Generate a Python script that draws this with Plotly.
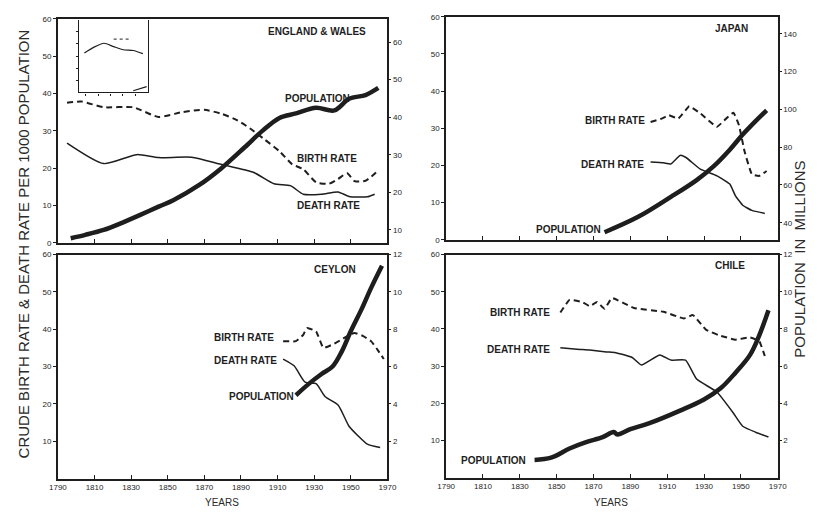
import plotly.graph_objects as go

W, H = 817, 513
INK = "#1e1e1e"
FONT = "Liberation Sans"

year_ticks = [1790, 1810, 1830, 1850, 1870, 1890, 1910, 1930, 1950, 1970]
rate_ticks = [0, 10, 20, 30, 40, 50, 60]

# ---------------- England & Wales ----------------
ew_birth_years = [1795, 1803, 1815, 1831, 1845, 1858, 1870, 1879, 1888, 1895, 1902, 1911, 1918, 1924, 1931, 1938, 1943, 1948, 1952, 1958, 1965]
ew_birth = [37.5, 37.8, 36.3, 36.3, 33.7, 35.0, 35.6, 34.6, 32.8, 30.6, 28.0, 24.5, 21.0, 19.7, 16.2, 15.8, 17.1, 18.6, 16.5, 16.6, 19.4]
ew_death_years = [1795, 1815, 1833, 1845, 1863, 1879, 1897, 1908, 1917, 1924, 1934, 1943, 1949, 1959, 1963]
ew_death = [26.7, 21.2, 23.6, 22.8, 22.9, 21.0, 18.8, 15.8, 15.3, 13.0, 13.0, 13.6, 12.4, 12.3, 13.0]
ew_pop_years = [1797, 1805, 1815, 1825, 1835, 1845, 1853, 1867, 1879, 1892, 1902, 1911, 1920, 1931, 1941, 1949, 1958, 1965]
ew_pop = [7.8, 8.7, 10.0, 11.9, 14.0, 16.2, 17.9, 21.9, 26.3, 32.0, 36.5, 39.8, 41.0, 42.5, 41.8, 44.9, 45.9, 47.8]
ew_pop_ticks = [10, 20, 30, 40, 50, 60]

# inset (small chart inside England & Wales panel)
inset_years = [1756, 1787, 1819, 1850, 1881, 1913, 1944]
inset_values = [32.6, 37.4, 40.6, 37.8, 35.2, 34.6, 32.0]
inset_dot_years = [1850, 1908]
inset_dot_values = [44.0, 44.0]
inset_low_years = [1913, 1956]
inset_low_values = [1.4, 4.8]

# ---------------- Japan ----------------
jp_birth_years = [1901, 1907, 1911, 1916, 1922, 1928, 1937, 1942, 1946, 1949, 1952, 1956, 1960, 1964]
jp_birth = [31.7, 32.6, 33.5, 32.6, 35.9, 34.0, 30.4, 32.6, 34.2, 30.8, 23.8, 17.6, 17.2, 18.5]
jp_death_years = [1901, 1908, 1912, 1917, 1920, 1928, 1937, 1944, 1947, 1951, 1956, 1963]
jp_death = [20.9, 20.7, 20.4, 22.7, 22.2, 19.0, 17.2, 15.0, 11.9, 9.3, 7.9, 7.1]
jp_pop_years = [1876, 1894, 1912, 1926, 1935, 1944, 1951, 1958, 1964]
jp_pop = [35.0, 43.0, 53.7, 62.6, 69.7, 78.7, 86.7, 93.8, 99.5]
jp_pop_ticks = [40, 60, 80, 100, 120, 140]

# ---------------- Ceylon ----------------
cy_birth_years = [1913, 1920, 1924, 1926, 1931, 1935, 1940, 1945, 1949, 1952, 1957, 1961, 1965, 1968]
cy_birth = [36.8, 36.8, 38.5, 40.3, 39.4, 35.0, 35.9, 37.2, 38.5, 39.0, 38.1, 36.8, 34.2, 32.0]
cy_death_years = [1913, 1919, 1925, 1931, 1936, 1943, 1949, 1954, 1959, 1966]
cy_death = [32.0, 30.2, 25.8, 25.4, 21.9, 19.7, 14.0, 11.4, 9.2, 8.3]
cy_pop_years = [1920, 1927, 1934, 1940, 1945, 1950, 1956, 1961, 1967]
cy_pop = [4.46, 5.07, 5.6, 6.0, 6.8, 7.9, 9.1, 10.2, 11.4]
small_pop_ticks = [2, 4, 6, 8, 10, 12]

# ---------------- Chile ----------------
ch_birth_years = [1852, 1857, 1864, 1868, 1872, 1876, 1880, 1892, 1908, 1919, 1924, 1931, 1938, 1947, 1955, 1960, 1963]
ch_birth = [44.4, 47.8, 47.2, 46.1, 47.2, 45.4, 48.3, 45.6, 44.6, 42.8, 43.7, 39.8, 38.3, 37.1, 37.7, 36.7, 32.7]
ch_death_years = [1852, 1861, 1868, 1877, 1882, 1891, 1896, 1906, 1912, 1920, 1926, 1937, 1946, 1951, 1958, 1965]
ch_death = [34.9, 34.5, 34.3, 33.8, 33.6, 32.3, 30.3, 33.0, 31.6, 31.6, 26.5, 23.0, 17.3, 13.8, 12.2, 10.9]
ch_pop_years = [1838, 1847, 1857, 1866, 1875, 1881, 1883, 1890, 1900, 1917, 1930, 1939, 1947, 1955, 1960, 1965]
ch_pop = [0.95, 1.07, 1.56, 1.9, 2.17, 2.45, 2.32, 2.6, 2.91, 3.6, 4.2, 4.8, 5.63, 6.6, 7.65, 9.0]


def px(x):
    return x / W


def py(y):
    return 1 - y / H


fig = go.Figure()


def add(xs, ys, xa, ya, dash, width, smooth=0.6):
    fig.add_trace(go.Scatter(
        x=xs, y=ys, xaxis=xa, yaxis=ya, mode="lines",
        line=dict(color=INK, width=width, dash=dash, shape="spline", smoothing=smooth),
        showlegend=False, hoverinfo="skip"))


BR_DASH = "6px,4px"
# England & Wales
add(ew_birth_years, ew_birth, "x", "y", BR_DASH, 2)
add(ew_death_years, ew_death, "x", "y", "solid", 1.5)
add(ew_pop_years, ew_pop, "x", "y2", "solid", 4.5, 0.9)
# Japan
add(jp_birth_years, jp_birth, "x2", "y3", BR_DASH, 2, 0.3)
add(jp_death_years, jp_death, "x2", "y3", "solid", 1.5, 0.4)
add(jp_pop_years, jp_pop, "x2", "y4", "solid", 4.5, 1.0)
# Ceylon
add(cy_birth_years, cy_birth, "x3", "y5", BR_DASH, 2, 0.4)
add(cy_death_years, cy_death, "x3", "y5", "solid", 1.5)
add(cy_pop_years, cy_pop, "x3", "y6", "solid", 4.5, 1.0)
# Chile
add(ch_birth_years, ch_birth, "x4", "y7", BR_DASH, 2, 0.3)
add(ch_death_years, ch_death, "x4", "y7", "solid", 1.5, 0.4)
add(ch_pop_years, ch_pop, "x4", "y8", "solid", 4.5, 1.0)
# inset
add(inset_years, inset_values, "x5", "y9", "solid", 1.2)
add(inset_dot_years, inset_dot_values, "x5", "y9", "dot", 1)
add(inset_low_years, inset_low_values, "x5", "y9", "solid", 1.2)

tick_font = dict(family=FONT, size=8, color=INK)
common_axis = dict(showline=True, linecolor=INK, linewidth=1.6, showgrid=False,
                   zeroline=False, tickcolor=INK, tickfont=tick_font)

# panel boxes in pixels: (left, right, top, bottom)
boxes = {
    1: (50, 387, 15, 243),
    2: (447, 786, 13, 240),
    3: (50, 387, 255, 483),
    4: (447, 786, 255, 482),
}
right_specs = {
    1: ([6.6, 66.2], ew_pop_ticks),
    2: ([31, 149], jp_pop_ticks),
    3: ([0, 12], small_pop_ticks),
    4: ([0, 12], small_pop_ticks),
}

layout = dict(
    width=W, height=H, margin=dict(l=0, r=0, t=0, b=0),
    paper_bgcolor="white", plot_bgcolor="rgba(0,0,0,0)",
    showlegend=False,
)

for i in range(1, 5):
    l, r, t, b = boxes[i]
    xname = "xaxis" if i == 1 else f"xaxis{i}"
    yl = 2 * i - 1
    yr = 2 * i
    ylname = "yaxis" if yl == 1 else f"yaxis{yl}"
    yrname = f"yaxis{yr}"
    xref = "x" if i == 1 else f"x{i}"
    ylref = "y" if yl == 1 else f"y{yl}"
    bottom_row = i >= 3
    layout[xname] = dict(common_axis, domain=[px(l), px(r)], anchor=ylref,
                         range=[1790, 1970], tickvals=year_ticks,
                         showticklabels=bottom_row, ticks="inside", ticklen=4,
                         mirror=True)
    layout[ylname] = dict(common_axis, domain=[py(b), py(t)], anchor=xref,
                          range=[0, 60],
                          tickvals=rate_ticks if not bottom_row else rate_ticks[1:],
                          ticks="outside", ticklen=3, mirror=True)
    rng, tv = right_specs[i]
    layout[yrname] = dict(common_axis, overlaying=ylref, side="right", anchor=xref,
                          range=rng, tickvals=tv, ticks="outside", ticklen=3,
                          showline=False)

# inset axes
layout["xaxis5"] = dict(common_axis, domain=[px(72), px(142)], anchor="y9",
                        range=[1740, 1960], tickvals=[1760, 1800, 1840, 1880, 1920],
                        showticklabels=False, ticks="outside", ticklen=2,
                        linewidth=1.2, mirror=False)
layout["yaxis9"] = dict(common_axis, domain=[py(90), py(16)], anchor="x5",
                        range=[0, 60], tickvals=[10, 20, 30, 40, 50],
                        showticklabels=False, ticks="outside", ticklen=2,
                        linewidth=1.2, mirror=True)

fig.update_layout(**layout)

lab_font = dict(family=FONT, size=10, color=INK)


def label(text, x, y, anchor="left", size=None, bold=True):
    f = dict(lab_font)
    if size:
        f["size"] = size
    fig.add_annotation(text=f"<b>{text}</b>" if bold else text,
                       x=px(x), y=py(y), xref="paper", yref="paper",
                       xanchor=anchor, yanchor="middle", showarrow=False, font=f)


# England & Wales
label("ENGLAND &amp; WALES", 367, 28, "right")
label("POPULATION", 280, 96)
label("BIRTH RATE", 292, 157)
label("DEATH RATE", 292, 205)
# Japan
label("JAPAN", 758, 25, "right")
label("BIRTH RATE", 587, 119)
label("DEATH RATE", 583, 163)
label("POPULATION", 537, 230)
# Ceylon
label("CEYLON", 357, 270, "right")
label("BIRTH RATE", 208, 339)
label("DEATH RATE", 208, 363)
label("POPULATION", 223, 399)
# Chile
label("CHILE", 755, 266, "right")
label("BIRTH RATE", 490, 314)
label("DEATH RATE", 487, 352)
label("POPULATION", 460, 465)

# axis titles
fig.add_annotation(text="CRUDE BIRTH RATE &amp; DEATH RATE PER 1000 POPULATION",
                   x=px(15), y=py(244), xref="paper", yref="paper",
                   xanchor="center", yanchor="middle",
                   textangle=-90, showarrow=False,
                   font=dict(family=FONT, size=15, color="#2a2a2a"))
fig.add_annotation(text="POPULATION  IN  MILLIONS",
                   x=px(808), y=py(260), xref="paper", yref="paper",
                   xanchor="center", yanchor="middle",
                   textangle=-90, showarrow=False,
                   font=dict(family=FONT, size=15, color="#2a2a2a"))
for xc in (218, 616):
    fig.add_annotation(text="YEARS", x=px(xc), y=py(507), xref="paper", yref="paper",
                       xanchor="center", yanchor="middle", borderpad=0,
                       showarrow=False, font=dict(family=FONT, size=10, color="#2a2a2a"))

fig.write_html("out.html")
